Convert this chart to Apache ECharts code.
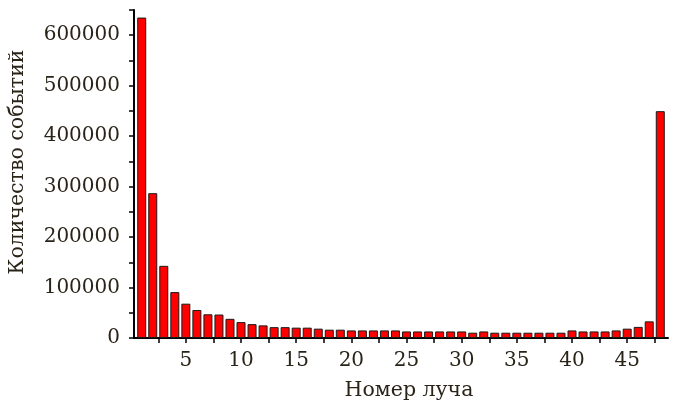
<!DOCTYPE html>
<html>
<head>
<meta charset="utf-8">
<script src="https://cdn.jsdelivr.net/npm/echarts@6/dist/echarts.min.js"></script>
<style>
  html, body { margin: 0; padding: 0; background: #fff; }
  #chart { width: 676px; height: 405px; }
</style>
</head>
<body>
<div id="chart"></div>
<script>
// номера лучей 1..48
const beams = [];
for (let i = 1; i <= 48; i++) beams.push(i);

// количество событий на луч
const counts = [
  635000, 287000, 143000, 91000, 68000, 55500, 47000, 46500, 38000, 31500,
  27500, 25000, 21500, 21500, 20500, 20500, 18500, 16500, 16500, 15000,
  15000, 15000, 15000, 15000, 13000, 13000, 13000, 13000, 13000, 13000,
  10500, 13000, 10500, 10500, 10500, 10500, 10500, 10500, 10500, 15000,
  13000, 13000, 13000, 15000, 18500, 22000, 33000, 449500
];

const xTicks = [2.5, 5, 7.5, 10, 12.5, 15, 17.5, 20, 22.5, 25, 27.5, 30, 32.5, 35, 37.5, 40, 42.5, 45, 47.5];
const xLabels = [5, 10, 15, 20, 25, 30, 35, 40, 45];
const yTicks = [0, 50000, 100000, 150000, 200000, 250000, 300000, 350000, 400000, 450000, 500000, 550000, 600000, 650000];
const yLabels = [0, 100000, 200000, 300000, 400000, 500000, 600000];

const font = 'DejaVu Serif';
const textColor = '#2a2418';

const chart = echarts.init(document.getElementById('chart'));

chart.setOption({
  animation: false,
  grid: { left: 134, right: 8, top: 10, bottom: 67, outerBoundsMode: 'none', containLabel: false },
  xAxis: {
    type: 'value',
    min: 0.3,
    max: 48.7,
    name: 'Номер луча',
    nameLocation: 'middle',
    nameGap: 42,
    nameTextStyle: { fontFamily: font, fontSize: 20.5, color: textColor, padding: [0, 0, 0, 16] },
    axisLine: { lineStyle: { color: '#000', width: 2 } },
    axisTick: { show: true, length: 5, inside: false, customValues: xTicks, lineStyle: { color: '#000', width: 1.5 } },
    axisLabel: { customValues: xLabels, fontFamily: font, fontSize: 20, color: textColor, margin: 13 },
    splitLine: { show: false }
  },
  yAxis: {
    type: 'value',
    min: 0,
    max: 650000,
    name: 'Количество событий',
    nameLocation: 'middle',
    nameGap: 106,
    nameRotate: 90,
    nameTextStyle: { fontFamily: font, fontSize: 20.5, color: textColor, padding: [0, 0, 0, 24] },
    axisLine: { show: true, lineStyle: { color: '#000', width: 2 } },
    axisTick: { show: true, length: 5, customValues: yTicks, lineStyle: { color: '#000', width: 1.5 } },
    axisLabel: { customValues: yLabels, formatter: v => String(v), fontFamily: font, fontSize: 20, color: textColor, margin: 14 },
    splitLine: { show: false }
  },
  series: [{
    type: 'bar',
    data: beams.map((b, i) => [b, counts[i]]),
    barWidth: 9,
    itemStyle: { color: '#ff0000', borderColor: '#1a1a1a', borderWidth: 1 }
  }]
});
</script>
</body>
</html>
